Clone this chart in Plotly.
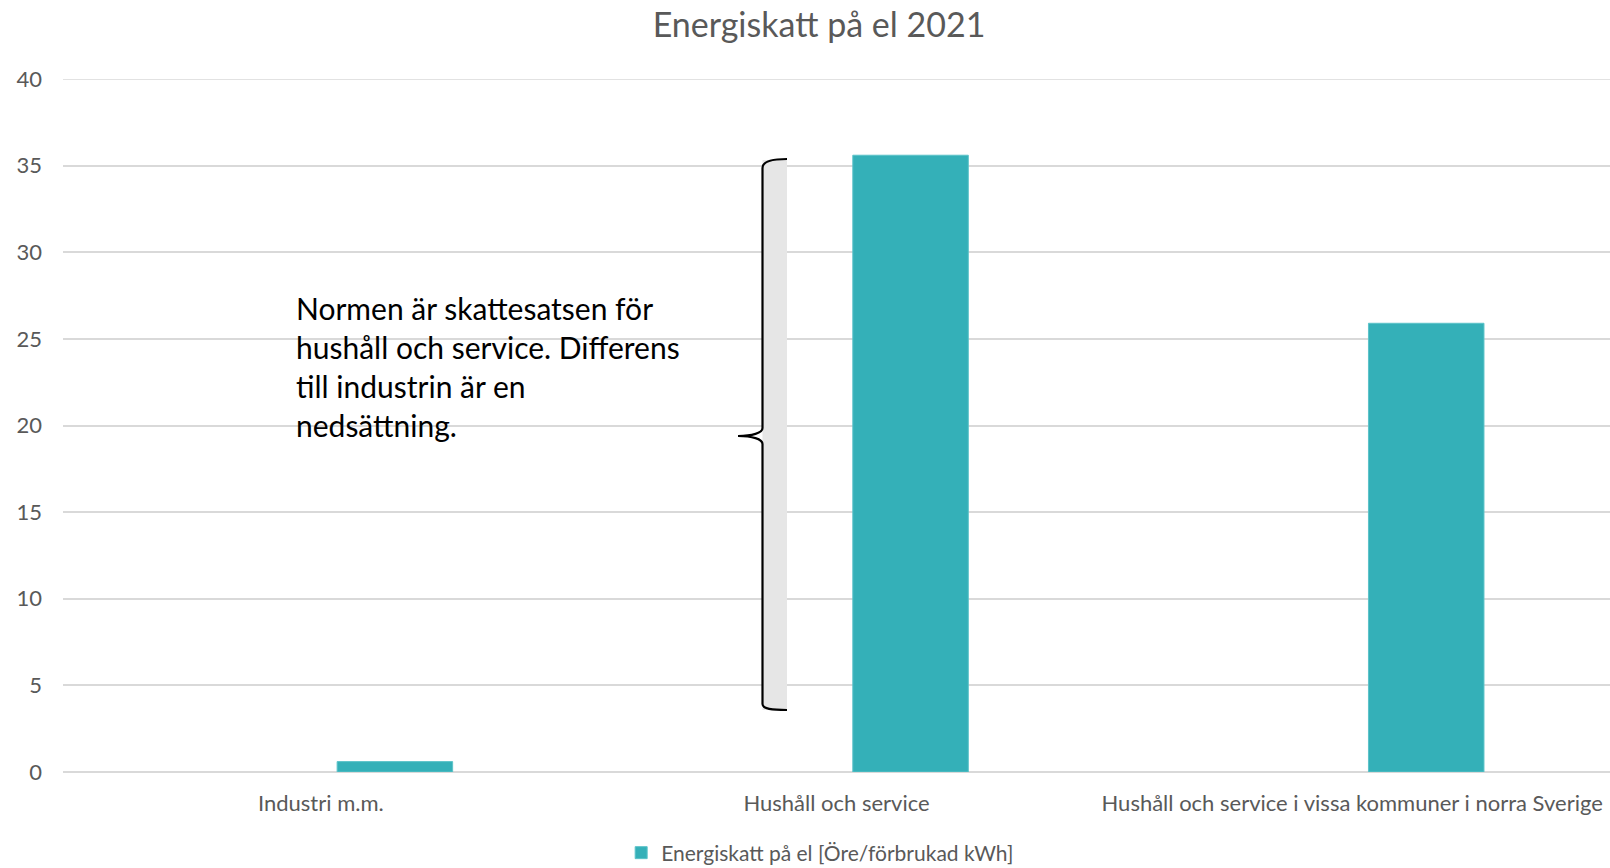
import plotly.graph_objects as go

categories = ["Industri m.m.", "Hushåll och service", "Hushåll och service i vissa kommuner i norra Sverige"]
values = [0.6, 35.6, 25.9]
series_name = "Energiskatt på el [Öre/förbrukad kWh]"
title_text = "Energiskatt på el 2021"
note_lines = ["Normen är skattesatsen för", "hushåll och service. Differens", "till industrin är en", "nedsättning."]
y_ticks = [0, 5, 10, 15, 20, 25, 30, 35, 40]

W, H = 1610, 868
ML, MR, MT, MB = 63, 0, 79, 96
PW, PH = W - ML - MR, H - MT - MB

def px(x):
    return (x - ML) / PW

def py(y):
    return (H - MB - y) / PH

FONT = "Lato"
GREY = "#595959"
TEAL = "#34B0B8"
GRID = "#d9d9d9"

fig = go.Figure()
fig.add_trace(go.Bar(
    x=categories, y=values, name=series_name,
    marker=dict(color=TEAL, line=dict(color="#5cc3c9", width=1)),
    width=0.224, offset=0.0316,
    showlegend=True,
))

# top gridline (at range edge)
fig.add_shape(type="line", xref="paper", yref="y", x0=0, x1=1,
              y0=y_ticks[-1], y1=y_ticks[-1], line=dict(color=GRID, width=1.5), layer="below")

# grey band behind brace
fig.add_shape(type="rect", xref="paper", yref="paper",
              x0=px(762.5), x1=px(787), y0=py(710), y1=py(160),
              fillcolor="#e6e6e6", line=dict(width=0), layer="above")

# curly brace path
pts_top = f"M {px(787)},{py(159)} C {px(772)},{py(159)} {px(762.5)},{py(161)} {px(762.5)},{py(168)}"
mid = (f" L {px(762.5)},{py(428)} C {px(762.5)},{py(433)} {px(752)},{py(436)} {px(738)},{py(436)}"
       f" C {px(752)},{py(436)} {px(762.5)},{py(439)} {px(762.5)},{py(444)}")
bot = f" L {px(762.5)},{py(704)} C {px(762.5)},{py(709)} {px(772)},{py(710)} {px(787)},{py(710)}"
fig.add_shape(type="path", xref="paper", yref="paper", path=pts_top + mid + bot,
              line=dict(color="black", width=2.2), layer="above")

fig.add_annotation(xref="paper", yref="paper", x=px(294), y=py(288),
                   xanchor="left", yanchor="top", align="left", showarrow=False,
                   text="<br>".join(note_lines),
                   font=dict(family=FONT, size=30, color="black"))

fig.update_layout(
    width=W, height=H,
    margin=dict(l=ML, r=MR, t=MT, b=MB, autoexpand=False),
    paper_bgcolor="white", plot_bgcolor="white",
    title=dict(text=title_text, x=819 / W, xanchor="center",
               y=1 - 25 / H, yanchor="middle",
               font=dict(family=FONT, size=34, color=GREY)),
    font=dict(family=FONT, color=GREY),
    legend=dict(orientation="h", x=788 / W, xanchor="center",
                xref="paper", y=py(853), yanchor="middle",
                font=dict(family=FONT, size=21, color=GREY),
                tracegroupgap=0, itemwidth=30),
    xaxis=dict(type="category", showgrid=False, showline=False, ticks="",
               tickfont=dict(family=FONT, size=22, color=GREY),
               ticklabelstandoff=16),
    yaxis=dict(range=[0, 40], tickvals=y_ticks, showgrid=True, gridcolor=GRID,
               gridwidth=1.5, zeroline=True, zerolinecolor=GRID, zerolinewidth=1.5,
               showline=False, ticks="",
               tickfont=dict(family=FONT, size=22, color=GREY),
               ticklabelstandoff=20),
)

fig.write_html("out.html")
